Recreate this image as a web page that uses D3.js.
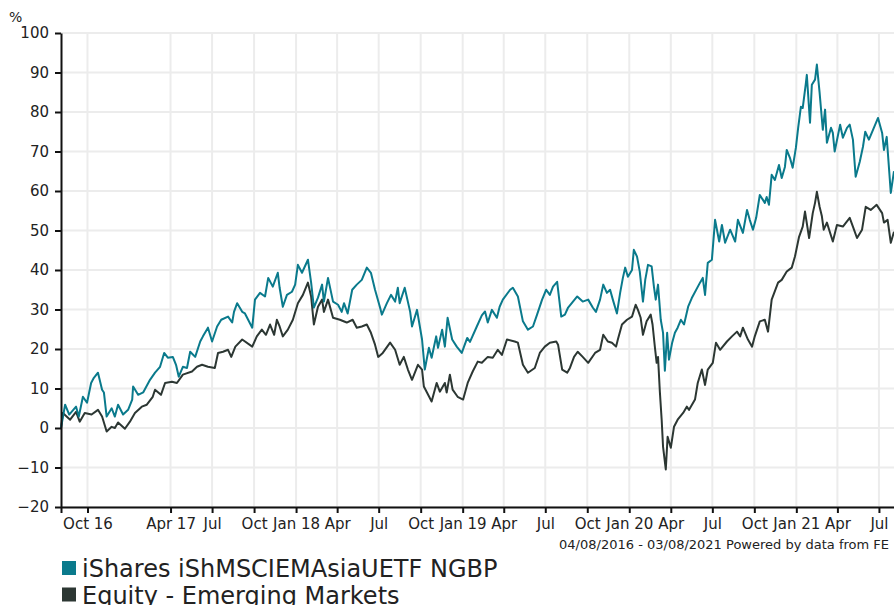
<!DOCTYPE html>
<html>
<head>
<meta charset="utf-8">
<script src="https://cdn.jsdelivr.net/npm/d3@7"></script>
<style>
    body { margin: 0; background: #fff; }
    svg { display: block; font-family: "DejaVu Sans", Verdana, sans-serif; }
    .grid line { stroke: #ececec; stroke-width: 2; }
    .axis path, .axis line { stroke: #111; }
    .axis text { fill: #222; }
    .line { fill: none; stroke-width: 2; stroke-linejoin: round; }
</style>
</head>
<body>
<div id="chart"></div>
<script>
// series: [date, cumulative % change]
const fundName = "iShares iShMSCIEMAsiaUETF NGBP";
const sectorName = "Equity - Emerging Markets";
const fundColor = "#0a7a8c";
const sectorColor = "#2c3733";

const fundSeries = [
    ["2016-08-04",0],["2016-08-13",5.9],["2016-08-22",3.4],["2016-09-06",5.4],["2016-09-12",2.9],["2016-09-21",7.9],
    ["2016-09-30",6.4],["2016-10-09",11.4],["2016-10-15",12.7],["2016-10-24",14],["2016-11-02",9.7],["2016-11-06",9],
    ["2016-11-12",2.9],["2016-11-23",5],["2016-11-30",2.9],["2016-12-07",5.9],["2016-12-18",3.4],["2016-12-29",4.6],
    ["2017-01-07",7.2],["2017-01-09",10.5],["2017-01-20",8.4],["2017-01-31",9],["2017-02-15",12.2],["2017-02-26",14],
    ["2017-03-09",15.5],["2017-03-18",19],["2017-03-26",17.8],["2017-04-06",18],["2017-04-13",16],["2017-04-19",13],
    ["2017-04-28",15.5],["2017-05-07",15.2],["2017-05-14",19.3],["2017-05-25",18],["2017-06-05",21.9],["2017-06-11",23.2],
    ["2017-06-22",25.4],["2017-07-01",21.9],["2017-07-12",25.7],["2017-07-21",27.4],["2017-08-05",28.2],["2017-08-14",26.7],
    ["2017-08-18",29.4],["2017-08-25",31.6],["2017-09-05",29.4],["2017-09-11",29],["2017-09-27",25.4],["2017-10-03",32.5],
    ["2017-10-14",34.2],["2017-10-25",33.3],["2017-11-01",38],["2017-11-11",35.8],["2017-11-22",39.3],["2017-11-26",35.5],
    ["2017-12-03",30.7],["2017-12-12",33.7],["2017-12-23",34.5],["2017-12-30",36.3],["2018-01-05",41.3],["2018-01-14",39.3],
    ["2018-01-27",42.6],["2018-02-03",36.8],["2018-02-09",30.5],["2018-02-18",33],["2018-02-27",36.3],["2018-03-03",32],
    ["2018-03-12",38],["2018-03-23",32],["2018-04-03",31.2],["2018-04-11",29.4],["2018-04-16",31.6],["2018-04-24",29],
    ["2018-05-04",35],["2018-05-14",36.3],["2018-05-25",37.5],["2018-06-05",40.6],["2018-06-14",39.3],["2018-06-23",35],
    ["2018-07-04",30.5],["2018-07-08",28.7],["2018-07-19",31.6],["2018-07-28",33.7],["2018-08-06",32],["2018-08-12",35.5],
    ["2018-08-16",31.6],["2018-08-27",35.5],["2018-09-08",29.4],["2018-09-12",25.7],["2018-09-23",29.9],["2018-10-04",22.4],
    ["2018-10-10",14.8],["2018-10-19",20.3],["2018-10-25",17.8],["2018-11-04",23.2],["2018-11-08",20.3],["2018-11-17",24.9],
    ["2018-11-23",20.6],["2018-11-29",27.9],["2018-12-09",22.4],["2018-12-19",20.6],["2018-12-30",19],["2019-01-11",22.8],
    ["2019-01-17",21.8],["2019-02-01",25.7],["2019-02-12",28.5],["2019-02-19",29.5],["2019-02-25",26.7],["2019-03-06",29.9],
    ["2019-03-17",27.9],["2019-03-23",30.7],["2019-03-30",32.5],["2019-04-15",35],["2019-04-21",35.5],["2019-05-02",33.3],
    ["2019-05-13",27],["2019-05-24",24.9],["2019-06-04",25.7],["2019-06-13",28.7],["2019-06-24",32.5],["2019-07-03",35],
    ["2019-07-11",33.7],["2019-07-18",35.8],["2019-07-27",37],["2019-08-05",28.2],["2019-08-13",28.7],["2019-08-20",30.5],
    ["2019-09-09",33.3],["2019-09-21",32],["2019-10-03",32.5],["2019-10-13",30.5],["2019-10-20",29.4],["2019-10-29",32.5],
    ["2019-11-05",36.3],["2019-11-13",34.2],["2019-11-20",35],["2019-11-26",32.5],["2019-12-05",29],["2019-12-12",34.2],
    ["2019-12-18",38],["2019-12-23",40.6],["2019-12-29",38.3],["2020-01-07",40],["2020-01-11",45.1],["2020-01-18",43.4],
    ["2020-01-24",39.6],["2020-01-31",32],["2020-02-05",37.5],["2020-02-11",41.3],["2020-02-19",40.9],["2020-02-24",35.8],
    ["2020-02-28",32.5],["2020-03-04",36.3],["2020-03-10",27.4],["2020-03-15",24.1],["2020-03-19",14.5],["2020-03-24",24.1],
    ["2020-03-28",17.3],["2020-04-04",21.6],["2020-04-10",24.1],["2020-04-16",25.4],["2020-04-23",27.4],["2020-04-30",26.2],
    ["2020-05-09",30.7],["2020-05-17",32.9],["2020-06-04",36.8],["2020-06-10",38],["2020-06-15",33.7],["2020-06-21",41.8],
    ["2020-06-30",42.6],["2020-07-07",52.7],["2020-07-16",47.2],["2020-07-22",51.4],["2020-07-29",46.9],["2020-08-09",50.2],
    ["2020-08-20",47.2],["2020-08-26",52.7],["2020-09-06",49.4],["2020-09-15",55.2],["2020-09-21",52.7],["2020-09-28",50.2],
    ["2020-10-05",53.2],["2020-10-13",59],["2020-10-24",57],["2020-10-28",58.5],["2020-11-02",56.5],["2020-11-08",64.1],
    ["2020-11-15",62.8],["2020-11-24",66.6],["2020-11-30",63.3],["2020-12-07",66.1],["2020-12-11",70.4],["2020-12-18",68.4],
    ["2020-12-24",65.9],["2020-12-31",70.9],["2021-01-05",76],["2021-01-11",81.3],["2021-01-15",81],["2021-01-22",87.4],
    ["2021-01-24",89.4],["2021-01-31",77.3],["2021-02-04",86.9],["2021-02-11",88.2],["2021-02-15",92],["2021-02-21",84.9],
    ["2021-02-28",75.5],["2021-03-05",80.6],["2021-03-09",72.2],["2021-03-18",76],["2021-03-22",74.7],["2021-03-26",70],
    ["2021-04-07",76.8],["2021-04-13",73.5],["2021-04-22",76],["2021-04-28",76.8],["2021-05-05",73],["2021-05-11",63.6],
    ["2021-05-20",67.4],["2021-05-27",71.2],["2021-06-01",75],["2021-06-09",73],["2021-06-18",75.5],["2021-06-29",78.5],
    ["2021-07-08",74.7],["2021-07-12",70.4],["2021-07-18",73.7],["2021-07-27",59.5],["2021-08-03",65]
];

const sectorSeries = [
    ["2016-08-04",0],["2016-08-08",3.8],["2016-08-24",2.1],["2016-09-06",4.1],["2016-09-14",1.6],["2016-09-25",3.8],
    ["2016-10-10",3.4],["2016-10-24",4.6],["2016-11-02",2.9],["2016-11-12",-0.9],["2016-11-23",0.3],["2016-11-30",0],
    ["2016-12-07",1.4],["2016-12-22",-0.2],["2017-01-02",1.6],["2017-01-13",3.8],["2017-01-28",5.4],["2017-02-08",5.9],
    ["2017-02-21",7.9],["2017-02-26",9.7],["2017-03-11",8.4],["2017-03-20",11.4],["2017-04-04",11.7],["2017-04-15",11.4],
    ["2017-04-28",13.5],["2017-05-18",14.3],["2017-05-29",15.5],["2017-06-09",16],["2017-06-22",15.5],["2017-07-07",15.2],
    ["2017-07-14",19],["2017-07-25",19.3],["2017-08-05",19.8],["2017-08-12",18],["2017-08-21",20.6],["2017-09-05",22.4],
    ["2017-09-27",20.6],["2017-10-07",23.2],["2017-10-18",24.9],["2017-10-27",23.6],["2017-11-05",26.2],["2017-11-14",23.6],
    ["2017-11-20",27.4],["2017-11-26",25.7],["2017-12-03",23.2],["2017-12-14",24.9],["2017-12-25",27.4],["2018-01-05",31.6],
    ["2018-01-16",33.7],["2018-01-27",36.8],["2018-02-03",33.3],["2018-02-09",26.2],["2018-02-18",30.7],["2018-02-27",32.5],
    ["2018-03-03",29.4],["2018-03-12",32.5],["2018-03-23",27.9],["2018-04-07",27.4],["2018-04-22",26.7],["2018-05-05",27.4],
    ["2018-05-14",25.4],["2018-05-25",25.7],["2018-06-05",26.2],["2018-06-14",24.1],["2018-06-23",21.1],["2018-06-30",18],
    ["2018-07-10",19],["2018-07-26",21.6],["2018-08-06",19.8],["2018-08-16",16],["2018-08-25",18],["2018-09-03",14.8],
    ["2018-09-12",12.2],["2018-09-25",16],["2018-10-04",14.8],["2018-10-08",10.5],["2018-10-25",6.7],["2018-11-05",11.4],
    ["2018-11-12",9.2],["2018-11-23",11.4],["2018-11-27",9],["2018-12-04",13.5],["2018-12-10",9.7],["2018-12-21",7.9],
    ["2019-01-02",7.2],["2019-01-12",11.4],["2019-01-23",14.3],["2019-02-03",16.8],["2019-02-12",16.5],["2019-02-25",18],
    ["2019-03-08",17.8],["2019-03-19",19.8],["2019-03-28",18.5],["2019-04-08",22.4],["2019-04-25",21.9],["2019-05-02",21.6],
    ["2019-05-13",16],["2019-05-24",14],["2019-06-08",15.2],["2019-06-19",19],["2019-06-30",20.6],["2019-07-11",21.6],
    ["2019-07-25",21.9],["2019-07-29",21.1],["2019-08-07",14.8],["2019-08-18",14],["2019-08-24",15.2],["2019-09-02",18],
    ["2019-09-10",19.3],["2019-09-21",18],["2019-10-03",16.5],["2019-10-18",19],["2019-10-29",19.8],["2019-11-05",23.6],
    ["2019-11-15",21.9],["2019-11-24",21.6],["2019-12-03",20.6],["2019-12-07",22.4],["2019-12-16",26.2],["2019-12-27",27.4],
    ["2020-01-07",28.2],["2020-01-15",31.2],["2020-01-20",29.9],["2020-01-26",27.9],["2020-01-31",23.6],["2020-02-08",27],
    ["2020-02-17",28.7],["2020-02-21",26.2],["2020-02-26",20.6],["2020-03-01",16.5],["2020-03-04",18],["2020-03-08",9.2],
    ["2020-03-12",2.1],["2020-03-15",-4.7],["2020-03-21",-10.5],["2020-03-25",-2.2],["2020-04-01",-5],["2020-04-08",0.3],
    ["2020-04-16",2.1],["2020-04-28",3.8],["2020-05-06",5.4],["2020-05-11",4.6],["2020-05-24",7.2],["2020-05-30",11.4],
    ["2020-06-08",14.8],["2020-06-15",10.9],["2020-06-21",14.8],["2020-07-02",16.5],["2020-07-09",21.6],["2020-07-18",19.8],
    ["2020-08-02",21.9],["2020-08-13",23.2],["2020-08-24",24.4],["2020-08-31",23.2],["2020-09-06",25.4],["2020-09-17",22.4],
    ["2020-09-26",20.6],["2020-10-02",23.2],["2020-10-13",27],["2020-10-24",27.4],["2020-10-31",24.4],["2020-11-08",32.5],
    ["2020-11-22",36.8],["2020-11-30",37.5],["2020-12-11",39.6],["2020-12-22",40.6],["2020-12-29",43.4],["2021-01-07",48.4],
    ["2021-01-15",51],["2021-01-20",54.8],["2021-01-29",48.1],["2021-02-06",54.4],["2021-02-11",57],["2021-02-15",59.8],
    ["2021-02-21",56],["2021-02-26",53.6],["2021-03-02",50.2],["2021-03-09",52],["2021-03-22",47.2],["2021-03-31",51.4],
    ["2021-04-13",51],["2021-04-28",53.2],["2021-05-05",51],["2021-05-14",48.1],["2021-05-25",50.2],["2021-06-02",56],
    ["2021-06-13",55.2],["2021-06-26",56.5],["2021-07-08",54.4],["2021-07-12",52],["2021-07-20",52.7],["2021-07-27",46.9],
    ["2021-08-03",49.7]
];

// x axis: quarterly ticks (the chart skips Jan 17)
const xTickDates = ["2016-10-01","2017-04-01","2017-07-01","2017-10-01","2018-01-01","2018-04-01","2018-07-01",
    "2018-10-01","2019-01-01","2019-04-01","2019-07-01","2019-10-01","2020-01-01","2020-04-01","2020-07-01",
    "2020-10-01","2021-01-01","2021-04-01","2021-07-01"];
const xTickLabels = ["Oct 16","Apr 17","Jul","Oct","Jan 18","Apr","Jul","Oct","Jan 19","Apr","Jul","Oct",
    "Jan 20","Apr","Jul","Oct","Jan 21","Apr","Jul"];
const yTicks = [-20, -10, 0, 10, 20, 30, 40, 50, 60, 70, 80, 90, 100];
const dateRange = ["2016-08-04", "2021-08-03"];
const footerText = "04/08/2016 - 03/08/2021 Powered by data from FE";

const W = 894, H = 605;
const margin = { top: 33, right: 0, bottom: 98, left: 61 };
const width = W - margin.left - margin.right;
const height = H - margin.top - margin.bottom;
const font = '"DejaVu Sans", Verdana, sans-serif';
const parse = d3.utcParse("%Y-%m-%d");

const svg = d3.select("#chart").append("svg")
    .attr("width", W)
    .attr("height", H);

const g = svg.append("g")
    .attr("transform", `translate(${margin.left},${margin.top})`);

const x = d3.scaleUtc()
    .domain(dateRange.map(parse))
    .range([0, width]);

const y = d3.scaleLinear()
    .domain([-20, 100])
    .range([height, 0]);

// gridlines
g.append("g")
    .attr("class", "grid")
    .selectAll("line")
    .data(yTicks)
    .join("line")
    .attr("x1", 0).attr("x2", width)
    .attr("y1", d => y(d)).attr("y2", d => y(d));

g.append("g")
    .attr("class", "grid")
    .selectAll("line")
    .data(xTickDates.map(parse))
    .join("line")
    .attr("x1", d => x(d)).attr("x2", d => x(d))
    .attr("y1", 0).attr("y2", height);

// lines
const line = d3.line()
    .x(d => x(parse(d[0])))
    .y(d => y(d[1]));

g.append("path")
    .datum(sectorSeries)
    .attr("class", "line")
    .attr("stroke", sectorColor)
    .attr("d", line);

g.append("path")
    .datum(fundSeries)
    .attr("class", "line")
    .attr("stroke", fundColor)
    .attr("d", line);

// axes
g.append("g")
    .attr("class", "axis")
    .attr("transform", `translate(0,${height})`)
    .call(d3.axisBottom(x)
        .tickValues([parse(dateRange[0])].concat(xTickDates.map(parse)))
        .tickFormat((d, i) => i === 0 ? "" : xTickLabels[i - 1])
        .tickSize(6)
        .tickPadding(5)
        .tickSizeOuter(0))
    .attr("font-family", font)
    .attr("font-size", 15);

g.append("g")
    .attr("class", "axis")
    .call(d3.axisLeft(y)
        .tickValues(yTicks)
        .tickSize(6)
        .tickPadding(6)
        .tickSizeOuter(0))
    .attr("font-family", font)
    .attr("font-size", 15);

svg.selectAll(".axis path, .axis line").attr("stroke-width", 2);

// unit label
svg.append("text")
    .attr("x", 9)
    .attr("y", 22)
    .attr("font-size", 14)
    .attr("fill", "#222")
    .text("%");

// footer
svg.append("text")
    .attr("x", 889)
    .attr("y", 549)
    .attr("text-anchor", "end")
    .attr("font-size", 13)
    .attr("fill", "#222")
    .text(footerText);

// legend
const legend = svg.append("g")
    .selectAll("g")
    .data([[fundName, fundColor], [sectorName, sectorColor]])
    .join("g")
    .attr("transform", (d, i) => `translate(62,${561 + i * 26.5})`);

legend.append("rect")
    .attr("width", 14)
    .attr("height", 14)
    .attr("fill", d => d[1]);

legend.append("text")
    .attr("x", 20)
    .attr("y", 16)
    .attr("font-size", 24)
    .attr("fill", "#222")
    .text(d => d[0]);
</script>
</body>
</html>
